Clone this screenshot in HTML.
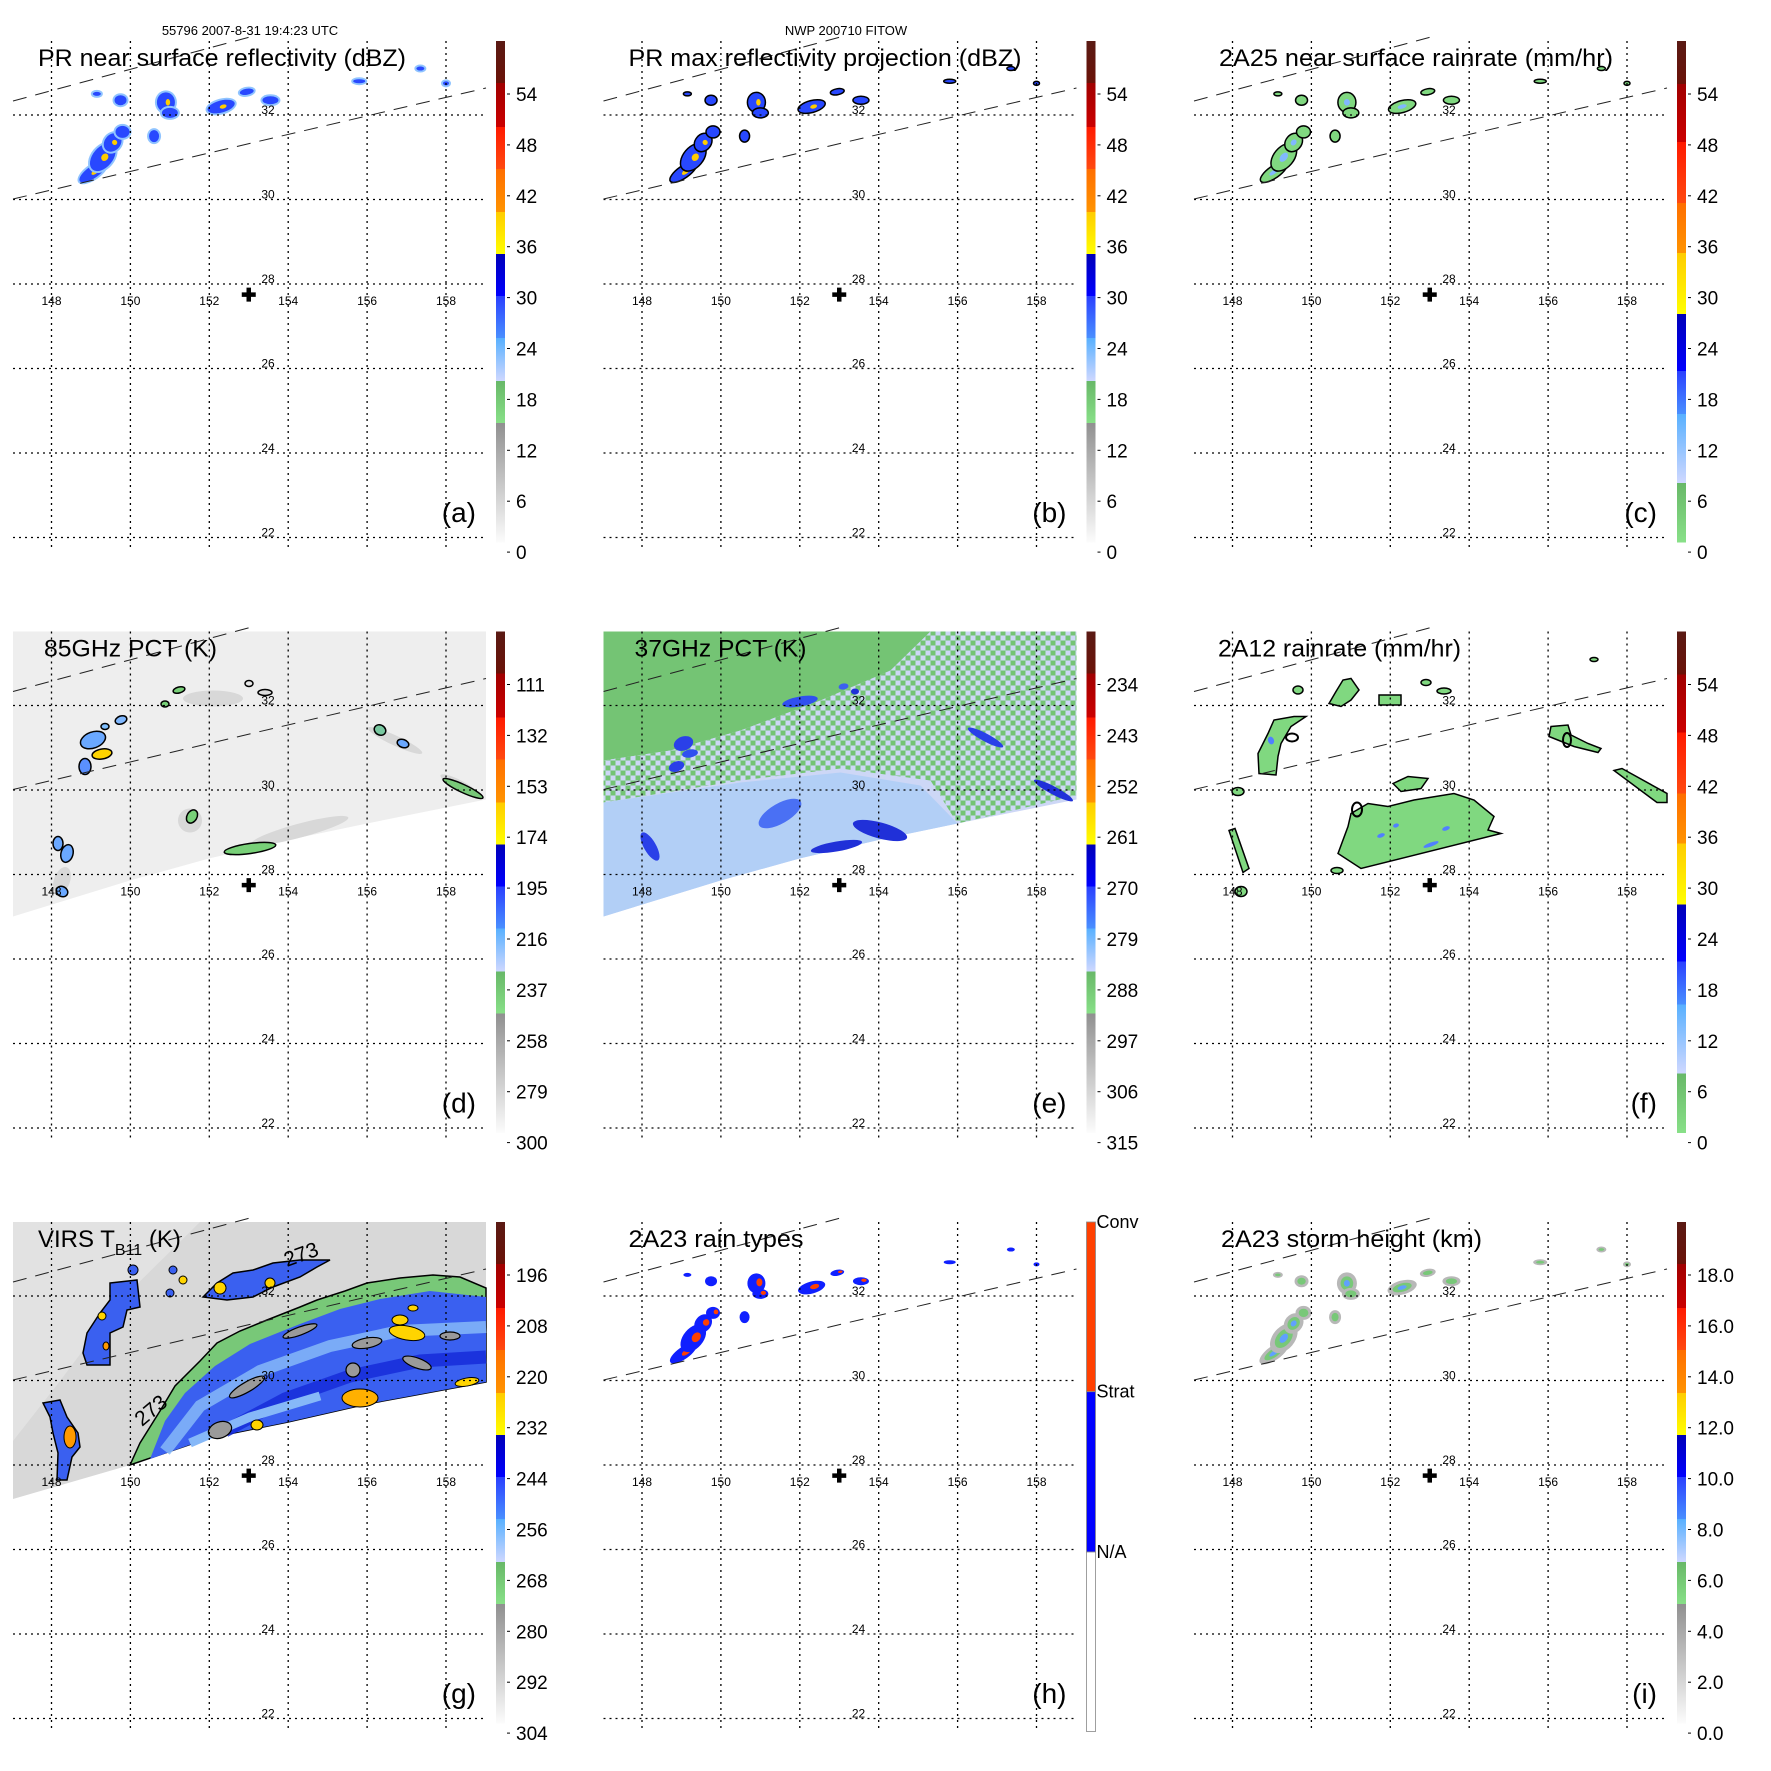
<!DOCTYPE html>
<html><head><meta charset="utf-8"><style>
html,body{margin:0;padding:0;background:#fff;}
svg{display:block;font-family:"Liberation Sans",Arial,sans-serif;}
</style></head><body>
<svg id="fig" width="1771" height="1771" viewBox="0 0 1771 1771" xmlns="http://www.w3.org/2000/svg">
<defs>
<pattern id="chk" width="10" height="10" patternUnits="userSpaceOnUse">
<rect x="0" y="0" width="5" height="5" fill="#74c474"/><rect x="5" y="5" width="5" height="5" fill="#74c474"/>
<rect x="5" y="0" width="5" height="5" fill="#cdd7f6"/><rect x="0" y="5" width="5" height="5" fill="#cdd7f6"/>
</pattern>
</defs>
<text x="250" y="35" font-size="13" text-anchor="middle">55796 2007-8-31 19:4:23 UTC</text>
<text x="846" y="35" font-size="13" text-anchor="middle">NWP 200710 FITOW</text>
</svg>
<script>
const NS='http://www.w3.org/2000/svg';
const svg=document.getElementById('fig');
// axis data
const lonTicks=[148,150,152,154,156,158];
const latTicks=[32,30,28,26,24,22];
const centerLon=[153.0];
const centerLat=[27.75];
// colorbar labels
const labelsDBZ=['54','48','42','36','30','24','18','12','6','0'];
const labelsRain=['54','48','42','36','30','24','18','12','6','0'];
const labels85=['111','132','153','174','195','216','237','258','279','300'];
const labels37=['234','243','252','261','270','279','288','297','306','315'];
const labelsVirs=['196','208','220','232','244','256','268','280','292','304'];
const labelsHt=['18.0','16.0','14.0','12.0','10.0','8.0','6.0','4.0','2.0','0.0'];
const labelsType=['Conv','Strat','N/A'];
// PR echo clusters (lon, lat)
const echoLon=[149.05,149.3,149.55,149.8,149.75,150.9,151.0,152.3,152.95,153.55,150.6,155.8,157.35,158.0,149.15];
const echoLat=[30.65,31.0,31.35,31.6,32.35,32.3,32.05,32.2,32.55,32.35,31.5,32.8,33.1,32.75,32.5];
const echoRx=[16,16,10,7,6,9,8,14,7,8,5,6,4,3,4];
const echoRy=[6,10,8,6,5,10,5,6,3,4,6,2,2,2,2];
const echoRot=[-35,-50,-50,0,0,0,0,-15,-10,0,0,0,0,0,0];

const X=lon=>51.5+(lon-148)*39.45;
const Y=lat=>115+(32-lat)*42.25;

function mk(tag,attrs,parent){const e=document.createElementNS(NS,tag);for(const k in attrs)e.setAttribute(k,attrs[k]);(parent||svg).appendChild(e);return e;}

const bandsA=[[41,83,'#5a1a14','#6b1208'],[83,127,'#a00000','#cc0000'],[127,169,'#ff1a00','#ff4a10'],[169,212,'#ff6e00','#ff9400'],[212,254,'#ffcc00','#ffff00'],[254,296,'#0000b8','#0000ff'],[296,338,'#2a40ff','#4a90ff'],[338,381,'#58b0ff','#d0d8ff'],[381,423,'#68b868','#88e088'],[423,542,'#909090','#fcfcfc']];
const bandsC=[[41,84,'#5a1a14','#6b1208'],[84,142,'#a00000','#cc0000'],[142,203,'#ff1a00','#ff4a10'],[203,253,'#ff6e00','#ff9400'],[253,314,'#ffcc00','#ffff00'],[314,371,'#0000b8','#0000ff'],[371,414,'#2a40ff','#4a90ff'],[414,483,'#58b0ff','#d0d8ff'],[483,542,'#68b868','#88e088']];
let gid=0;

const swathE=[[13,326],[130,290],[209,268],[288,249.5],[367,233],[486,209],[486,41],[13,41]];
const swathG=[[13,318],[130,284],[209,257],[288,241],[367,223],[486,201],[486,41],[13,41]];
const pts=a=>a.map(p=>p.join(',')).join(' ');

const panels=[
 {c:0,r:0,t:'PR near surface reflectivity (dBZ)',tl:368,tx:38,l:'(a)',lab:labelsDBZ,bar:'A',bg:'none',st:'a'},
 {c:1,r:0,t:'PR max reflectivity projection (dBZ)',tl:393,tx:38,l:'(b)',lab:labelsDBZ,bar:'A',bg:'none',st:'b'},
 {c:2,r:0,t:'2A25 near surface rainrate (mm/hr)',tl:394,tx:38,l:'(c)',lab:labelsRain,bar:'C',bg:'none',st:'c'},
 {c:0,r:1,t:'85GHz PCT (K)',tl:173,tx:44,l:'(d)',lab:labels85,bar:'A',bg:'d',st:''},
 {c:1,r:1,t:'37GHz PCT (K)',tl:172,tx:44,l:'(e)',lab:labels37,bar:'A',bg:'e',st:''},
 {c:2,r:1,t:'2A12 rainrate (mm/hr)',tl:243,tx:37,l:'(f)',lab:labelsRain,bar:'C',bg:'f',st:''},
 {c:0,r:2,t:'VIRS T',tl:0,tx:38,l:'(g)',lab:labelsVirs,bar:'A',bg:'g',st:''},
 {c:1,r:2,t:'2A23 rain types',tl:175,tx:38,l:'(h)',lab:labelsType,bar:'H',bg:'none',st:'h'},
 {c:2,r:2,t:'2A23 storm height (km)',tl:261,tx:40,l:'(i)',lab:labelsHt,bar:'A',bg:'none',st:'i'}
];

function poly(g,arr,fill,stroke,sw,name){const e=mk('polygon',{points:pts(arr),fill:fill,stroke:stroke||'none','stroke-width':sw||0},g);


return e;}
function ell(g,cx,cy,rx,ry,rot,fill,stroke,sw,name){const e=mk('ellipse',{cx:cx,cy:cy,rx:rx,ry:ry,transform:'rotate('+rot+' '+cx+' '+cy+')',fill:fill,stroke:stroke||'none','stroke-width':sw||0},g);


return e;}

function drawBg(g,p){
 if(p.bg==='d'){
  poly(g,swathE,'#eeeeee','','', 'pct85-swath');
  const sm=[[213,108,30,8,0],[395,150,30,5,25],[300,240,50,7,-15],[460,195,22,5,28],[190,230,12,12,0],[62,290,8,14,20]];
  sm.forEach(s=>ell(g,s[0],s[1],s[2],s[3],s[4],'#d8d8d8','','', 'pct85-depression'));
  const bl=[[93,149.5,13,8,-20,'#6aa8ff'],[102,163.5,10,5,-10,'#ffd400'],[85,176,6,8,0,'#5a90ff'],[121,129.5,6,4,-20,'#80b8ff'],[105,136,4,3,0,'#80c0ff'],[179,99.5,6,3,-15,'#78d078'],[249,93,4,3,0,'#e8e8e8'],[265,102,7,3,0,'#e0e0e0'],[165,113.5,4,3,0,'#78d078'],[380,139.5,6,5,30,'#78c8a0'],[403,153,6,4,20,'#6aa8ff'],[463,198,22,4,25,'#78c878'],[192,226,5,7,30,'#78d078'],[250,258,26,5,-8,'#78d078'],[58,253,5,7,0,'#6aa8ff'],[67,263,6,9,15,'#6aa8ff'],[62,301,6,5,30,'#6aa8ff']];
  bl.forEach(b=>ell(g,b[0],b[1],b[2],b[3],b[4],b[5],'#000',1.5,'pct85-cell'));
 } else if(p.bg==='e'){
  poly(g,swathE,'#cdd7f6','','', 'pct37-swath');
  poly(g,[[13,41],[340,41],[300,80],[230,110],[150,140],[80,160],[13,170]],'#74c474','','', 'pct37-warm-region');
  poly(g,[[13,170],[80,160],[150,140],[230,110],[300,80],[340,41],[486,41],[486,205],[367,233],[340,190],[250,178],[150,190],[13,212]],'url(#chk)','','', 'pct37-mixed-region');
  poly(g,[[13,212],[150,192],[250,182],[330,195],[367,233],[288,249.5],[209,268],[130,290],[13,326]],'#b2cff6','','', 'pct37-scatter-region');
  const st=[[93,153,10,7,-20,'#2a40e8'],[86,176,8,5,-20,'#2a40e8'],[99.5,163,8,4,-10,'#3050f0'],[209.5,111,18,5,-10,'#3050f0'],[189.5,223,24,10,-30,'#4a70f4'],[289.5,240,28,8,15,'#2030d8'],[246,256,26,5,-10,'#2030d8'],[59.5,256,6,16,-30,'#2a40e8'],[395,147,20,4,28,'#2a40e8'],[463,200,22,4,28,'#2030d8'],[253,96,5,3,-10,'#3c60f0'],[264.5,101,4,3,0,'#2030d8']];
  st.forEach(s=>ell(g,s[0],s[1],s[2],s[3],s[4],s[5],'','', 'pct37-cold-streak'));
 } else if(p.bg==='f'){
  const sh=[
   [[157,263],[167,236],[170,223],[187,213],[207,216],[233,209.5],[273,203],[293,209.5],[313,226],[307,239.5],[320,243],[180,278]],
   [[78,183],[77,163],[87,143],[93,129.5],[113,126],[125,126],[110,136],[100,153],[97,166],[95,184.5]],
   [[148,113],[155,101],[162,89.5],[170,88],[178,99.5],[170,109.5],[160,116]],
   [[198,104.5],[220,104.5],[220,114.5],[198,114.5]],
   [[370,136],[387,134.5],[390,144.5],[407,153],[420,158],[417,162],[393,156],[368,146]],
   [[433,180],[441,178],[486,203],[486,212],[476,212]],
   [[212,193],[227,186],[247,188],[240,198],[220,201]],
   [[48,240],[54,238],[68,278],[62,282]]
  ];
  sh.forEach(s=>poly(g,s,'#80d880','#000',1.5,'rainrate-area'));
  const sm=[[117,99.5,5,4],[263,100.5,7,3],[245,92,5,3],[60,301,6,5],[57,201,6,4],[413,69,4,2],[156,280,6,3]];
  sm.forEach(s=>ell(g,s[0],s[1],s[2],s[3],0,'#80d880','#000',1.5,'rainrate-cell'));
  [[200,245,4,2],[215,235,3,2],[265,238,4,2],[250,254,8,2],[90,150,3,4]].forEach(s=>ell(g,s[0],s[1],s[2],s[3],-20,'#5080ff','','', 'rainrate-heavy'));
  [[111,147,6,4],[176,219,5,7],[386,149.5,4,7]].forEach(s=>ell(g,s[0],s[1],s[2],s[3],0,'none','#000',2,'rainrate-contour'));
 } else if(p.bg==='g'){
  poly(g,swathG,'#d8d8d8','','', 'virs-swath');
  poly(g,[[13,41],[200,41],[120,120],[60,200],[13,260]],'#e2e2e2','','', 'virs-warm-clear');
  const outer=[[130,284],[140,262],[160,230],[175,205],[200,180],[217,162],[240,150],[267,139],[300,126],[317,119],[345,110],[367,102],[400,97],[433,94],[460,96],[486,107],[486,201],[367,223],[288,241],[209,257]];
  poly(g,outer,'#78c878','#000',1.5,'virs-cloud-shield-edge');
  const inner=[[150,278],[165,240],[185,212],[215,185],[250,163],[300,143],[340,128],[380,118],[430,110],[486,116],[486,201],[367,223],[288,241],[209,257]];
  poly(g,inner,'#3a60f0','','', 'virs-cloud-shield');
  const b1=mk('polyline',{points:'165,270 200,225 260,190 330,165 400,150 486,146',fill:'none',stroke:'#86b8f8','stroke-width':12,'stroke-opacity':0.85},g);
  
  
  const b2=mk('polyline',{points:'225,250 285,218 350,195 420,180 486,176',fill:'none',stroke:'#1428d8','stroke-width':13,'stroke-opacity':0.8},g);
  
  
  const b3=mk('polyline',{points:'190,262 250,236 320,215',fill:'none',stroke:'#86b8f8','stroke-width':9},g);
  
  
  [[367,162,15,5,-10],[353,189,7,7,0],[247,206,20,5,-30],[220,249,12,8,-20],[417,182,15,5,20],[300,150,18,4,-20],[450,155,10,4,0]].forEach(s=>ell(g,s[0],s[1],s[2],s[3],s[4],'#9a9a9a','#000',1.2,'virs-warm-hole'));
  poly(g,[[110,102],[137,99],[140,126],[127,129],[123,146],[110,152],[110,166],[110,184],[87,184],[83,172],[87,152],[100,132],[110,119]],'#3a60f0','#000',1.5,'virs-cluster-west');
  poly(g,[[203,116],[217,102],[233,92],[253,89],[273,82],[300,79],[330,79],[317,86],[300,96],[273,106],[253,116],[227,119]],'#3a60f0','#000',1.5,'virs-cluster-north');
  poly(g,[[43,222],[60,219],[67,236],[78,252],[80,266],[72,276],[67,299],[57,299],[58,272],[53,252],[50,236]],'#3a60f0','#000',1.5,'virs-cluster-southwest');
  [[407,152,18,7,10,'#ffd400'],[400,139,8,5,0,'#ffd400'],[360,217,18,9,0,'#ffb000'],[257,244,6,5,0,'#ffd400'],[467,201,12,4,-10,'#ffd400'],[413,127,5,3,0,'#ffd400'],[220,107,6,6,-30,'#ffd400'],[270,102,5,5,0,'#ffd400'],[70,256,6,11,0,'#ff9a00'],[102,135,4,4,0,'#ffd400'],[106,165,3,4,0,'#ff9a00'],[183,99,4,4,0,'#ffd400'],[133,89,5,5,0,'#3a60f0'],[173,89,4,4,0,'#3a60f0'],[170,112,4,4,0,'#3a60f0']].forEach(s=>ell(g,s[0],s[1],s[2],s[3],s[4],s[5],'#000',1,'virs-coldest-top'));
  const c1=mk('text',{x:287,y:86,'font-size':21,transform:'rotate(-20 287 86)'},g);c1.textContent='273';
  
  
  const c2=mk('text',{x:142,y:246,'font-size':21,transform:'rotate(-40 142 246)'},g);c2.textContent='273';
  
  
 }
}

function drawEchoes(g,st){
 for(let i=0;i<echoLon.length;i++){
  const cx=X(echoLon[i]),cy=Y(echoLat[i]),rx=echoRx[i],ry=echoRy[i],rot=echoRot[i];
  if(st==='a'){
   ell(g,cx,cy,rx+2,ry+2,rot,'#90c4ff','','', 'echo-light');
   ell(g,cx,cy,rx,ry,rot,'#2848ff','','', 'echo-cell');
   if(rx>8) ell(g,cx+2,cy,rx/4,ry/3,rot,'#ffcc00','','', 'echo-core');
  } else if(st==='b'){
   ell(g,cx,cy,rx,ry,rot,'#2848ff','#000',1.5,'echo-cell');
   if(rx>8) ell(g,cx+2,cy,rx/4,ry/3,rot,'#ffcc00','','', 'echo-core');
  } else if(st==='c'){
   ell(g,cx,cy,rx,ry,rot,'#80d880','#000',1.5,'rain-cell');
   if(rx>8) ell(g,cx,cy,rx/3,ry/3,rot,'#80b8ff','','', 'rain-core');
  } else if(st==='h'){
   ell(g,cx,cy,rx,ry,rot,'#1020ff','','', 'stratiform-cell');
   if(rx>6) ell(g,cx+3,cy-1,rx/3,ry/2.5,rot,'#ff4000','','', 'convective-cell');
  } else if(st==='i'){
   ell(g,cx,cy,rx+1,ry+1,rot,'#b8b8b8','','', 'height-low');
   ell(g,cx,cy,rx*0.7,ry*0.7,rot,'#78c878','','', 'height-mid');
   if(rx>8) ell(g,cx,cy,rx/3,ry/3,rot,'#60a0ff','','', 'height-high');
  }
 }
}

function band(g,x,y0,y1,c0,c1,w){
 const id='gb'+(gid++);
 const lg=mk('linearGradient',{id:id,x1:0,y1:0,x2:0,y2:1},g);
 mk('stop',{offset:0,'stop-color':c0},lg);mk('stop',{offset:1,'stop-color':c1},lg);
 const r=mk('rect',{x:x,y:y0,width:w,height:y1-y0+0.5,fill:'url(#'+id+')'},g);
 
 
}

panels.forEach((p,pi)=>{
 const g=mk('g',{transform:'translate('+(p.c*590.5)+','+(p.r*590.5)+')'});
 
 
 drawBg(g,p);
 if(p.st) drawEchoes(g,p.st);
 lonTicks.forEach(lon=>{const l=mk('line',{x1:X(lon),x2:X(lon),y1:41,y2:551,stroke:'#000','stroke-width':1.3,'stroke-dasharray':'2 4'},g);
  
  
  const t=mk('text',{x:X(lon),y:Y(28)+21,'font-size':12,'text-anchor':'middle'},g);t.textContent=lon;
  
  });
 latTicks.forEach(lat=>{const l=mk('line',{x1:13,x2:486,y1:Y(lat),y2:Y(lat),stroke:'#000','stroke-width':1.3,'stroke-dasharray':'2 4'},g);
  
  
  const t=mk('text',{x:268,y:Y(lat)-1,'font-size':12,'text-anchor':'middle'},g);t.textContent=lat;
  
  });
 const d1=mk('line',{x1:13,y1:101,x2:250,y2:37,stroke:'#222','stroke-width':1,'stroke-dasharray':'14 9'},g);
 
 
 const d2=mk('line',{x1:13,y1:199,x2:486,y2:88,stroke:'#222','stroke-width':1,'stroke-dasharray':'14 9'},g);
 
 
 const cx=X(centerLon[0]),cy=Y(centerLat[0]);
 const pl=mk('path',{d:'M'+(cx-7)+' '+cy+'H'+(cx+7)+'M'+cx+' '+(cy-7)+'V'+(cy+7),stroke:'#000','stroke-width':4.5},g);
 
 
 const t=mk('text',{x:p.tx,y:66,'font-size':24},g);
 if(p.tl){t.setAttribute('textLength',p.tl);t.setAttribute('lengthAdjust','spacingAndGlyphs');t.textContent=p.t;}
 else{t.textContent='VIRS T';const s=mk('tspan',{'font-size':16,dy:8},t);s.textContent='B11';const s2=mk('tspan',{dy:-8},t);s2.textContent=' (K)';}
 
 
 const lt=mk('text',{x:476,y:522,'font-size':28,'text-anchor':'end'},g);lt.textContent=p.l;
 
 
 const cb=mk('g',{},g);
 
 
 if(p.bar==='H'){
  const ys=[41,210.7,371,550.5],cs=['#ff4000','#0000ff','#ffffff'];
  for(let i=0;i<3;i++){const r=mk('rect',{x:496,y:ys[i],width:9,height:ys[i+1]-ys[i],fill:cs[i],stroke:'#888','stroke-width':0.8},cb);
   
   
   const tx=mk('text',{x:506,y:ys[i]+6,'font-size':18},cb);tx.textContent=p.lab[i];
   
   }
 } else {
  (p.bar==='A'?bandsA:bandsC).forEach(b=>band(cb,496,b[0],b[1],b[2],b[3],9));
  p.lab.forEach((s,i)=>{const y=94+i*50.9;
   mk('line',{x1:507,x2:510,y1:y,y2:y,stroke:'#000','stroke-width':1},cb);
   const tx=mk('text',{x:516,y:y+7,'font-size':19},cb);tx.textContent=s;
   
   });
 }
});
</script>
</body></html>
